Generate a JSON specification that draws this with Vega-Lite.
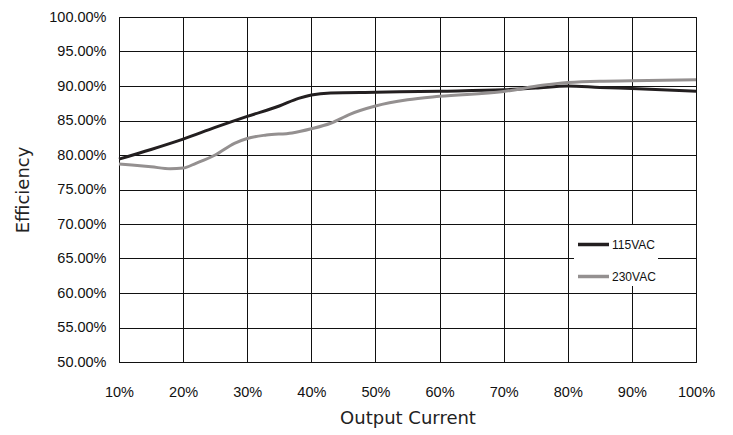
{
  "$schema": "https://vega.github.io/schema/vega-lite/v6.json",
  "width": 577,
  "height": 345,
  "autosize": "none",
  "padding": {"left": 119, "top": 17, "right": 37, "bottom": 73},
  "background": "white",
  "config": {
    "view": {"stroke": "#111", "strokeWidth": 1},
    "axis": {
      "labelFont": "Liberation Sans",
      "labelFontSize": 14.5,
      "labelColor": "#111",
      "titleFont": "DejaVu Sans",
      "titleFontSize": 18,
      "titleFontWeight": "normal",
      "titleColor": "#222",
      "gridColor": "#111",
      "gridOpacity": 1,
      "gridWidth": 1,
      "domainColor": "#111",
      "ticks": false
    }
  },
  "data": {
    "values": [
      {"load": 10, "eff": 79.4, "series": "115VAC"},
      {"load": 15, "eff": 80.8, "series": "115VAC"},
      {"load": 20, "eff": 82.3, "series": "115VAC"},
      {"load": 25, "eff": 84.0, "series": "115VAC"},
      {"load": 30, "eff": 85.6, "series": "115VAC"},
      {"load": 35, "eff": 87.1, "series": "115VAC"},
      {"load": 38, "eff": 88.2, "series": "115VAC"},
      {"load": 40, "eff": 88.7, "series": "115VAC"},
      {"load": 43, "eff": 89.0, "series": "115VAC"},
      {"load": 50, "eff": 89.1, "series": "115VAC"},
      {"load": 60, "eff": 89.25, "series": "115VAC"},
      {"load": 70, "eff": 89.45, "series": "115VAC"},
      {"load": 75, "eff": 89.7, "series": "115VAC"},
      {"load": 80, "eff": 90.0, "series": "115VAC"},
      {"load": 85, "eff": 89.8, "series": "115VAC"},
      {"load": 90, "eff": 89.65, "series": "115VAC"},
      {"load": 100, "eff": 89.25, "series": "115VAC"},
      {"load": 10, "eff": 78.7, "series": "230VAC"},
      {"load": 12, "eff": 78.55, "series": "230VAC"},
      {"load": 15, "eff": 78.3, "series": "230VAC"},
      {"load": 18, "eff": 78.0, "series": "230VAC"},
      {"load": 20, "eff": 78.1, "series": "230VAC"},
      {"load": 22, "eff": 78.8, "series": "230VAC"},
      {"load": 25, "eff": 80.0, "series": "230VAC"},
      {"load": 28, "eff": 81.7, "series": "230VAC"},
      {"load": 30, "eff": 82.4, "series": "230VAC"},
      {"load": 33, "eff": 82.9, "series": "230VAC"},
      {"load": 37, "eff": 83.2, "series": "230VAC"},
      {"load": 40, "eff": 83.8, "series": "230VAC"},
      {"load": 43, "eff": 84.6, "series": "230VAC"},
      {"load": 46, "eff": 85.9, "series": "230VAC"},
      {"load": 50, "eff": 87.1, "series": "230VAC"},
      {"load": 55, "eff": 88.0, "series": "230VAC"},
      {"load": 60, "eff": 88.5, "series": "230VAC"},
      {"load": 70, "eff": 89.2, "series": "230VAC"},
      {"load": 76, "eff": 90.1, "series": "230VAC"},
      {"load": 80, "eff": 90.5, "series": "230VAC"},
      {"load": 85, "eff": 90.7, "series": "230VAC"},
      {"load": 90, "eff": 90.75, "series": "230VAC"},
      {"load": 100, "eff": 90.9, "series": "230VAC"}
    ]
  },
  "mark": {"type": "line", "strokeWidth": 3, "interpolate": "monotone"},
  "encoding": {
    "x": {
      "field": "load",
      "type": "quantitative",
      "scale": {"domain": [10, 100], "nice": false, "zero": false},
      "axis": {
        "title": "Output Current",
        "values": [10, 20, 30, 40, 50, 60, 70, 80, 90, 100],
        "labelExpr": "datum.value + '%'",
        "labelFlush": false,
        "labelPadding": 23,
        "titlePadding": 11
      }
    },
    "y": {
      "field": "eff",
      "type": "quantitative",
      "scale": {"domain": [50, 100], "nice": false, "zero": false},
      "axis": {
        "title": "Efficiency",
        "values": [50, 55, 60, 65, 70, 75, 80, 85, 90, 95, 100],
        "labelExpr": "format(datum.value, '.2f') + '%'",
        "labelPadding": 13,
        "titlePadding": 16
      }
    },
    "color": {
      "field": "series",
      "type": "nominal",
      "scale": {"domain": ["115VAC", "230VAC"], "range": ["#231f20", "#949090"]},
      "legend": {
        "title": null,
        "orient": "none",
        "legendX": 455,
        "legendY": 208,
        "direction": "vertical",
        "symbolType": "stroke",
        "symbolSize": 961,
        "symbolStrokeWidth": 3.5,
        "rowPadding": 7,
        "labelOffset": 1,
        "labelFont": "Liberation Sans",
        "labelFontSize": 12,
        "labelColor": "#111",
        "fillColor": "white",
        "padding": 2
      }
    }
  }
}
